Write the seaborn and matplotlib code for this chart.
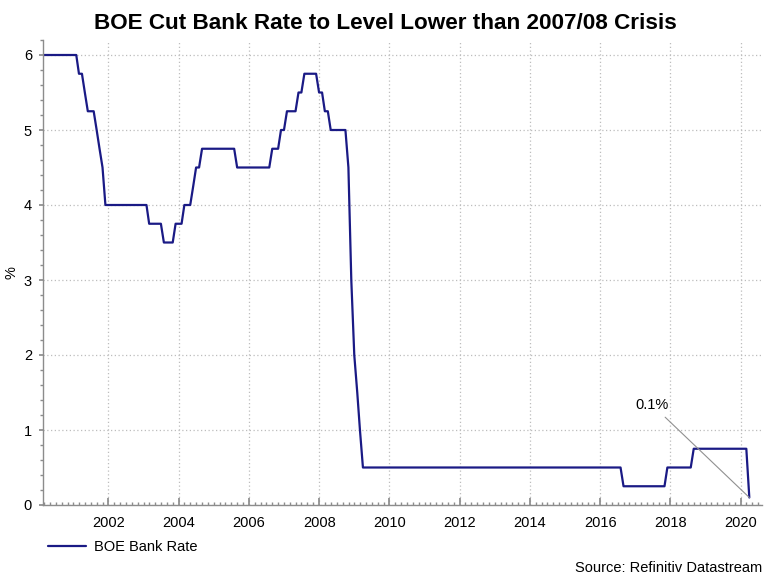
import matplotlib
matplotlib.use("Agg")
import matplotlib.pyplot as plt
import matplotlib.dates as mdates
import seaborn as sns
import pandas as pd

# Vertices of the monthly (month-end) BOE Bank Rate line
months = ["2000-02", "2001-01", "2001-02", "2001-03", "2001-04", "2001-05", "2001-07",
          "2001-08", "2001-09", "2001-10", "2001-11", "2003-01", "2003-02", "2003-06",
          "2003-07", "2003-10", "2003-11", "2004-01", "2004-02", "2004-04", "2004-05",
          "2004-06", "2004-07", "2004-08", "2005-07", "2005-08", "2006-07", "2006-08",
          "2006-10", "2006-11", "2006-12", "2007-01", "2007-04", "2007-05", "2007-06",
          "2007-07", "2007-11", "2007-12", "2008-01", "2008-02", "2008-03", "2008-04",
          "2008-09", "2008-10", "2008-11", "2008-12", "2009-01", "2009-02", "2009-03",
          "2016-07", "2016-08", "2017-10", "2017-11", "2018-07", "2018-08", "2020-02",
          "2020-03"]
rate = [6.0, 6.0, 5.75, 5.75, 5.5, 5.25, 5.25,
        5.0, 4.75, 4.5, 4.0, 4.0, 3.75, 3.75,
        3.5, 3.5, 3.75, 3.75, 4.0, 4.0, 4.25,
        4.5, 4.5, 4.75, 4.75, 4.5, 4.5, 4.75,
        4.75, 5.0, 5.0, 5.25, 5.25, 5.5, 5.5,
        5.75, 5.75, 5.5, 5.5, 5.25, 5.25, 5.0,
        5.0, 4.5, 3.0, 2.0, 1.5, 1.0, 0.5,
        0.5, 0.25, 0.25, 0.5, 0.5, 0.75, 0.75,
        0.1]
series_name = "BOE Bank Rate"
title = "BOE Cut Bank Rate to Level Lower than 2007/08 Crisis"
y_ticks = [0, 1, 2, 3, 4, 5, 6]
x_tick_years = list(range(2002, 2021, 2))
note_text = "0.1%"
source_text = "Source: Refinitiv Datastream"

dates = pd.to_datetime(months) + pd.offsets.MonthEnd(0)
df = pd.DataFrame({"Date": dates, "Rate": rate, "Series": series_name})

sns.set_theme(style="white")
plt.rcParams["font.family"] = ["Liberation Sans", "DejaVu Sans"]
plt.rcParams["text.color"] = "black"
plt.rcParams["axes.labelcolor"] = "black"

fig = plt.figure(figsize=(7.71, 5.83), dpi=100)
ax = fig.add_axes([43 / 771, 78 / 583, (762 - 43) / 771, (505 - 40) / 583])

line_color = "#1a1a85"
sns.lineplot(data=df, x="Date", y="Rate", ax=ax, color=line_color, linewidth=1.6,
             label=series_name, legend=False)

ax.set_xlim(pd.Timestamp("2000-02-20"), pd.Timestamp("2020-08-10"))
ax.set_ylim(0, 6.2)

ax.set_yticks(y_ticks)
ax.set_yticklabels([str(v) for v in y_ticks])
ax.yaxis.set_minor_locator(matplotlib.ticker.MultipleLocator(0.2))
ax.set_xticks([pd.Timestamp(f"{y}-01-01") for y in x_tick_years])
ax.set_xticklabels([str(y) for y in x_tick_years])
ax.xaxis.set_minor_locator(mdates.MonthLocator(bymonth=[1, 3, 5, 7, 9, 11]))

ax.grid(True, which="major", color="#bdbdbd", linestyle=(0, (1, 2)), linewidth=0.9)
for s in ["top", "right"]:
    ax.spines[s].set_visible(False)
for s in ["left", "bottom"]:
    ax.spines[s].set_color("#8c8c8c")
    ax.spines[s].set_linewidth(1.0)

ax.tick_params(axis="y", which="both", direction="out", left=True, color="#8c8c8c",
               labelsize=10.5, labelcolor="black")
ax.tick_params(axis="y", which="major", length=3, pad=5)
ax.tick_params(axis="y", which="minor", length=2.5)
ax.tick_params(axis="x", which="both", direction="in", bottom=True, color="#8c8c8c",
               labelsize=10.5, labelcolor="black", pad=8)
ax.tick_params(axis="x", which="major", length=5)
ax.tick_params(axis="x", which="minor", length=2.5)

ax.set_xlabel("")
ax.set_ylabel("%", fontsize=10.5, color="black")
ax.yaxis.set_label_coords(-25 / 719, 0.5)

# Annotation to the last point
ax.annotate(note_text, xy=(df["Date"].iloc[-1], df["Rate"].iloc[-1]),
            xytext=(pd.Timestamp("2017-01-05"), 1.24), fontsize=10.5, color="black",
            ha="left", va="bottom",
            arrowprops=dict(arrowstyle="-", color="#909090", lw=0.8,
                            shrinkA=2, shrinkB=0))

fig.text(0.5, 0.978, title, ha="center", va="top", fontsize=16.2, fontweight="bold",
         color="black")

# Legend below the axes
leg = fig.legend(handles=ax.get_lines()[:1], labels=[series_name],
                 loc="upper left", bbox_to_anchor=(42 / 771, 1 - 534 / 583),
                 frameon=False, fontsize=10.5, handlelength=2.6, handletextpad=0.6,
                 borderaxespad=0)
fig.text(762 / 771, 1 - 568 / 583, source_text, ha="right", va="center", fontsize=10.5)

fig.savefig("out.png", dpi=100)
